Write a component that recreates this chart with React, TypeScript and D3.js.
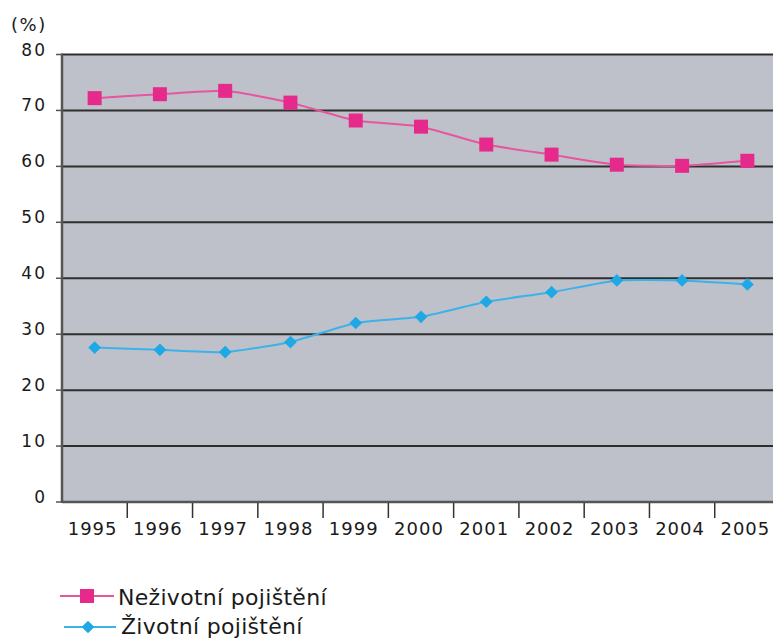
import React from 'react';
import * as d3 from 'd3';

const years = ['1995', '1996', '1997', '1998', '1999', '2000', '2001', '2002', '2003', '2004', '2005'];
const nonLife = [72.2, 72.9, 73.5, 71.4, 68.2, 67.1, 63.9, 62.1, 60.3, 60.1, 61.0];
const life = [27.6, 27.2, 26.8, 28.6, 32.0, 33.1, 35.8, 37.5, 39.6, 39.6, 38.9];
const yTicks = [0, 10, 20, 30, 40, 50, 60, 70, 80];
const seriesNames = ['Neživotní pojištění', 'Životní pojištění'];

const W = 773;
const H = 638;
const font = '"DejaVu Sans", Verdana, sans-serif';

const App: React.FC = () => {
  const x = d3.scaleBand<string>().domain(years).range([62, 780]);
  const y = d3.scaleLinear().domain([0, 80]).range([502, 54.5]);
  const cx = (yr: string) => (x(yr) ?? 0) + x.bandwidth() / 2;

  // light smoothing, close to the spreadsheet's smoothed line
  const line = d3
    .line<number>()
    .x((_, i) => cx(years[i]))
    .y((d) => y(d))
    .curve(d3.curveCardinal.tension(0.5));

  const pink = '#e62a8c';
  const blue = '#1ea9e6';
  const bottom = y(0);

  return (
    <svg
      width={W}
      height={H}
      style={{ position: 'fixed', left: 0, top: 0, background: '#fff' }}
      fontFamily={font}
    >
      {/* plot area */}
      <rect x={62} y={y(80)} width={780 - 62} height={bottom - y(80)} fill="#bec1c9" />

      {/* gridlines */}
      {yTicks.slice(1).map((t) => (
        <line key={t} x1={62} x2={W} y1={y(t)} y2={y(t)} stroke="#2e2e2e" strokeWidth={2} />
      ))}

      {/* y axis */}
      <line x1={62} x2={62} y1={y(80) - 1} y2={bottom + 1} stroke="#555" strokeWidth={2.5} />
      {yTicks.map((t) => (
        <g key={t}>
          <line x1={56} x2={62} y1={y(t)} y2={y(t)} stroke="#555" strokeWidth={1.5} />
          <text
            x={47}
            y={y(t) - 4}
            textAnchor="end"
            dominantBaseline="middle"
            fontSize={17}
            letterSpacing={2}
            fill="#1a1a1a"
          >
            {t}
          </text>
        </g>
      ))}
      <text x={11} y={31} fontSize={18} letterSpacing={1.5} fill="#1a1a1a">
        (%)
      </text>

      {/* x axis */}
      <line x1={62} x2={W} y1={bottom} y2={bottom} stroke="#555" strokeWidth={2.5} />
      {years.slice(1).map((yr) => (
        <line
          key={yr}
          x1={x(yr)}
          x2={x(yr)}
          y1={bottom + 1}
          y2={bottom + 16}
          stroke="#333"
          strokeWidth={1.5}
        />
      ))}
      {years.map((yr) => (
        <text
          key={yr}
          x={cx(yr) - 2}
          y={535}
          textAnchor="middle"
          fontSize={18}
          letterSpacing={1}
          fill="#1a1a1a"
        >
          {yr}
        </text>
      ))}

      {/* series */}
      <path d={line(nonLife) || undefined} fill="none" stroke="#e8559f" strokeWidth={2} />
      <path d={line(life) || undefined} fill="none" stroke="#3bb2ea" strokeWidth={2} />
      {nonLife.map((v, i) => (
        <rect key={i} x={cx(years[i]) - 7} y={y(v) - 7} width={14} height={14} fill={pink} />
      ))}
      {life.map((v, i) => (
        <rect
          key={i}
          x={-4.5}
          y={-4.5}
          width={9}
          height={9}
          fill={blue}
          transform={`translate(${cx(years[i])},${y(v)}) rotate(45)`}
        />
      ))}

      {/* legend */}
      <line x1={60} x2={114} y1={596} y2={596} stroke="#e8559f" strokeWidth={2} />
      <rect x={80} y={589} width={14} height={14} fill={pink} />
      <text x={118} y={605} fontSize={22} letterSpacing={0.3} fill="#1a1a1a">
        {seriesNames[0]}
      </text>
      <line x1={64} x2={116} y1={627} y2={627} stroke="#3bb2ea" strokeWidth={2} />
      <rect
        x={-4.5}
        y={-4.5}
        width={9}
        height={9}
        fill={blue}
        transform="translate(88,627) rotate(45)"
      />
      <text x={121} y={634} fontSize={22} letterSpacing={0.3} fill="#1a1a1a">
        {seriesNames[1]}
      </text>
    </svg>
  );
};

export default App;
